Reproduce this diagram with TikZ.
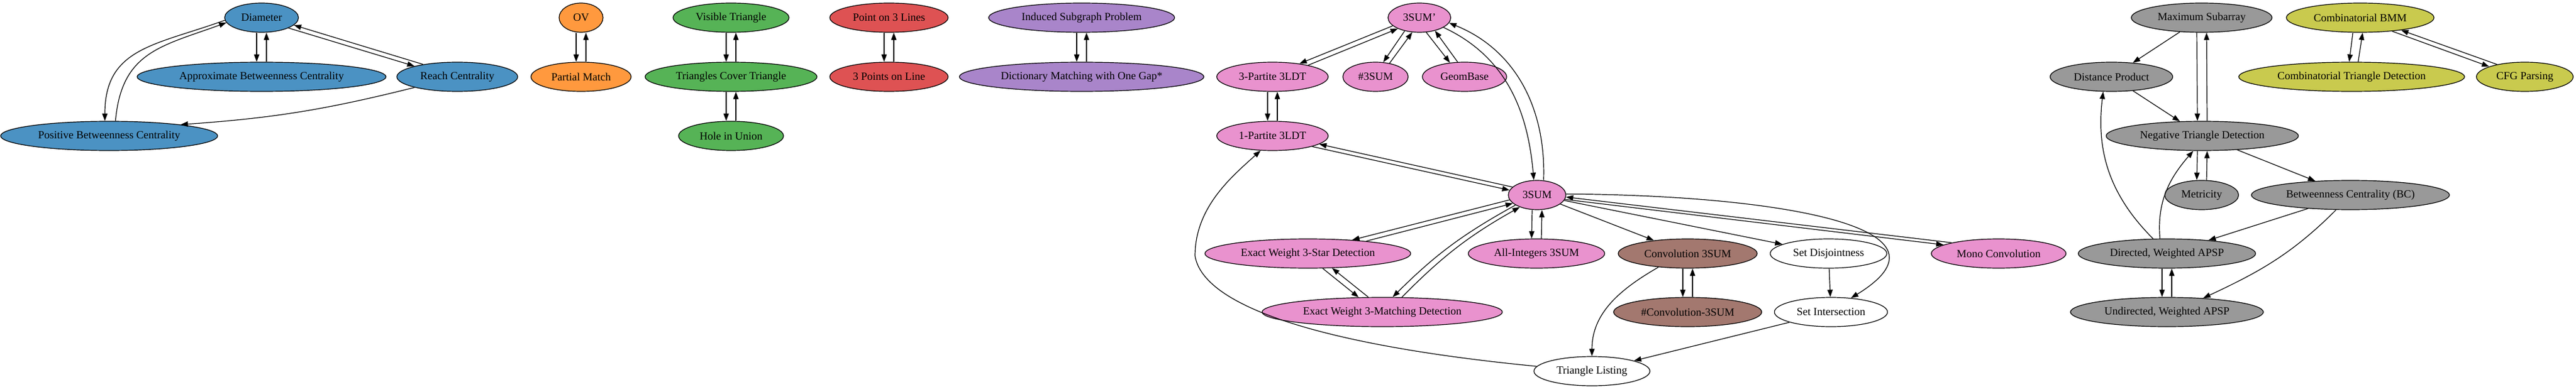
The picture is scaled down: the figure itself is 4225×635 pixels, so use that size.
\documentclass[tikz,border=0pt]{standalone}
\usepackage{fontspec}
\setmainfont{Liberation Serif}
\usetikzlibrary{shapes.geometric, arrows.meta}

\definecolor{cblue}{HTML}{4B92C3}
\definecolor{corange}{HTML}{FF993E}
\definecolor{cgreen}{HTML}{56B356}
\definecolor{cred}{HTML}{DE5253}
\definecolor{cpurple}{HTML}{A985CA}
\definecolor{cpink}{HTML}{E992CE}
\definecolor{cbrown}{HTML}{A3786F}
\definecolor{cgrey}{HTML}{999999}
\definecolor{colive}{HTML}{C9CA4E}

\tikzset{
  prob/.style = {draw, ellipse, minimum width=54pt, minimum height=36pt,
                 inner xsep=7pt, inner ysep=2pt, font=\fontsize{13.5}{16}\selectfont},
  bluenode/.style   = {prob, fill=cblue},
  orangenode/.style = {prob, fill=corange},
  greennode/.style  = {prob, fill=cgreen},
  rednode/.style    = {prob, fill=cred},
  purplenode/.style = {prob, fill=cpurple},
  pinknode/.style   = {prob, fill=cpink},
  brownnode/.style  = {prob, fill=cbrown},
  greynode/.style   = {prob, fill=cgrey},
  olivenode/.style  = {prob, fill=colive},
  plainnode/.style  = {prob, fill=white},
}

\begin{document}
\begin{tikzpicture}[x=0.75pt, y=0.75pt, line width=0.9pt,
                    >={Triangle[length=9pt, width=6.5pt]}]
  \useasboundingbox (0,0) rectangle (4225,-635);

  % centrality
  \node[bluenode]   at ( 429, -29) (diam)  {Diameter};
  \node[bluenode]   at ( 429,-126) (abc)   {Approximate Betweenness Centrality};
  \node[bluenode]   at ( 750,-126) (reach) {Reach Centrality};
  \node[bluenode]   at ( 179,-223) (pbc)   {Positive Betweenness Centrality};

  \node[orangenode] at ( 953, -29) (ov)     {OV};
  \node[orangenode] at ( 953,-126) (pmatch) {Partial Match};

  \node[greennode]  at (1199, -29) (vistri)   {Visible Triangle};
  \node[greennode]  at (1199,-126) (tricover) {Triangles Cover Triangle};
  \node[greennode]  at (1199,-223) (hole)     {Hole in Union};

  \node[rednode]    at (1458, -29) (ptlines) {Point on 3 Lines};
  \node[rednode]    at (1458,-126) (ptsline) {3 Points on Line};

  \node[purplenode] at (1774, -29) (indsub)    {Induced Subgraph Problem};
  \node[purplenode] at (1774,-126) (dictmatch) {Dictionary Matching with One Gap*};

  % 3SUM family
  \node[pinknode]   at (2328, -29) (sumprime) {3SUM'};
  \node[pinknode]   at (2087,-126) (tripart)  {3-Partite 3LDT};
  \node[pinknode]   at (2256,-126) (cntsum)   {\#3SUM};
  \node[pinknode]   at (2402,-126) (geombase) {GeomBase};
  \node[pinknode]   at (2087,-223) (onepart)  {1-Partite 3LDT};
  \node[pinknode]   at (2521,-320) (threesum) {3SUM};
  \node[pinknode]   at (2145,-416) (star)     {Exact Weight 3-Star Detection};
  \node[pinknode]   at (2520,-416) (allint)   {All-Integers 3SUM};
  \node[pinknode]   at (2267,-512) (matching) {Exact Weight 3-Matching Detection};
  \node[pinknode]   at (3278,-416) (mono)     {Mono Convolution};
  \node[brownnode]  at (2768,-416) (conv)     {Convolution 3SUM};
  \node[brownnode]  at (2768,-512) (cntconv)  {\#Convolution-3SUM};
  \node[plainnode]  at (2999,-416) (disj)     {Set Disjointness};
  \node[plainnode]  at (3003,-512) (inter)    {Set Intersection};
  \node[plainnode]  at (2611,-609) (trilist)  {Triangle Listing};

  % APSP family
  \node[greynode]   at (3611, -29) (maxsub)   {Maximum Subarray};
  \node[greynode]   at (3463,-126) (distprod) {Distance Product};
  \node[greynode]   at (3612,-223) (negtri)   {Negative Triangle Detection};
  \node[greynode]   at (3611,-320) (metric)   {Metricity};
  \node[greynode]   at (3855,-320) (bc)       {Betweenness Centrality (BC)};
  \node[greynode]   at (3554,-416) (dapsp)    {Directed, Weighted APSP};
  \node[greynode]   at (3554,-512) (uapsp)    {Undirected, Weighted APSP};

  \node[olivenode]  at (3871, -29) (bmm)     {Combinatorial BMM};
  \node[olivenode]  at (3857,-126) (combtri) {Combinatorial Triangle Detection};
  \node[olivenode]  at (4141,-126) (cfg)     {CFG Parsing};

  % two-way pairs, one above the other
  \foreach \up/\down in {diam/abc, ov/pmatch, vistri/tricover, tricover/hole,
                         ptlines/ptsline, indsub/dictmatch, tripart/onepart,
                         threesum/allint, conv/cntconv, maxsub/negtri,
                         negtri/metric, dapsp/uapsp} {
    \draw[->] ([xshift=-6pt]\up.south) -- ([xshift=-6pt]\down.north);
    \draw[->] ([xshift=6pt]\down.north) -- ([xshift=6pt]\up.south);
  }
  \draw[->] ([xshift=-9pt]bmm.south) -- ([xshift=-3pt]combtri.north);
  \draw[->] ([xshift=8pt]combtri.north) -- ([xshift=3pt]bmm.south);

  % centrality edges
  \draw[->] (diam.-21) -- (reach.166);
  \draw[->] (reach.160) -- (diam.-13);
  \draw[->] (diam.184) to[out=200, in=90, looseness=1.2] (pbc.106);
  \draw[->] (pbc.67) to[out=85, in=200, looseness=1.2] (diam.188);
  \draw[->] (reach.194) to[bend left=5] (pbc.9);

  % 3SUM edges
  \draw[->] (sumprime.197) -- (tripart.26);
  \draw[->] (tripart.18) -- (sumprime.207);
  \draw[->] (sumprime.222) -- (cntsum.62);
  \draw[->] (cntsum.44) -- (sumprime.244);
  \draw[->] (sumprime.295) -- (geombase.136);
  \draw[->] (geombase.115) -- (sumprime.320);
  \draw[->] (sumprime.-22) to[out=-25, in=95] ([xshift=-4pt]threesum.north);
  \draw[->] ([xshift=8pt]threesum.north) to[out=88, in=-22] (sumprime.-10);
  \draw[->] (onepart.-15) -- (threesum.170);
  \draw[->] (threesum.162) -- (onepart.-10);
  \draw[->] (threesum.190) -- (star.17);
  \draw[->] (star.12) -- (threesum.199);
  \draw[->] (threesum.205) to[bend right=8] (matching.55);
  \draw[->] (matching.37) to[bend left=8] (threesum.215);
  \draw[->] (star.315) -- (matching.148);
  \draw[->] (matching.133) -- (star.329);
  \draw[->] (threesum) -- (conv);
  \draw[->] (threesum) -- (disj);
  \draw[->] (threesum.2) .. controls (2900,-320) and (3230,-370) .. (inter.35);
  \draw[->] (threesum.-9) -- (mono.171);
  \draw[->] (mono.167) -- (threesum.-4);
  \draw[->] (conv.205) to[out=210, in=90] (trilist.north);
  \draw[->] (disj) -- (inter);
  \draw[->] (inter) -- (trilist);
  \draw[->] (trilist.175) .. controls (2200,-570) and (1975,-510) .. (1960,-420)
            .. controls (1960,-340) and (2020,-290) .. (onepart.231);

  % APSP edges
  \draw[->] (maxsub) -- (distprod);
  \draw[->] (distprod) -- (negtri);
  \draw[->] (negtri) -- (bc);
  \draw[->] (bc) -- (dapsp);
  \draw[->] (bc.226) to[out=225, in=25] (uapsp.21);
  \draw[->] (dapsp.133) to[out=135, in=263] (distprod.241);
  \draw[->] (dapsp.115) to[out=95, in=229] (negtri.239);
  \draw[->] (bmm.-23) -- (cfg.164);
  \draw[->] (cfg.156) -- (bmm.-17);
\end{tikzpicture}
\end{document}
